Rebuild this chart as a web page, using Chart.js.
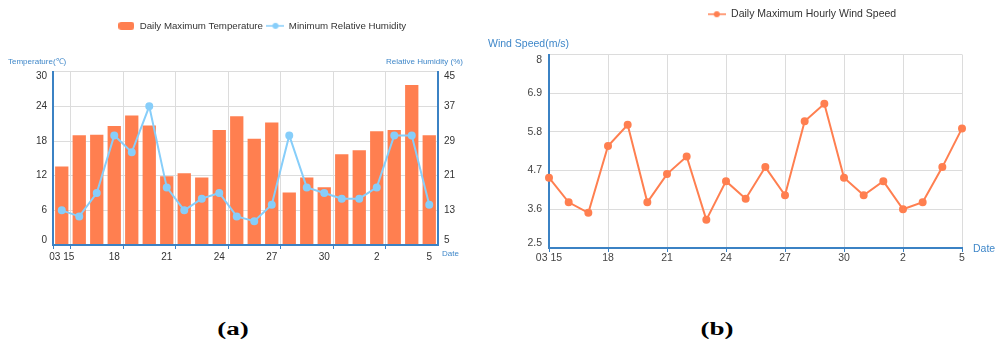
<!DOCTYPE html>
<html>
<head>
<meta charset="utf-8">
<script src="https://cdn.jsdelivr.net/npm/chart.js@4.4.1/dist/chart.umd.min.js"></script>
<style>
  html, body { margin: 0; padding: 0; background: #fff; overflow: hidden; }
  #page { position: relative; width: 995px; height: 339px; overflow: hidden; background: #fff; }
  #page canvas { position: absolute; top: 0; }
  #chartA { left: 0; }
  #chartB { left: 480px; }
  .cap {
    position: absolute; top: 319px; width: 80px; line-height: 20px; text-align: center;
    font: bold 18px "Liberation Serif", "Times New Roman", serif; color: #000;
    transform: scaleX(1.5);
  }
</style>
</head>
<body>
<div id="page">
  <canvas id="chartB" width="644" height="270"></canvas>
  <canvas id="chartA" width="524" height="270"></canvas>
  <div class="cap" style="left:193px">(a)</div>
  <div class="cap" style="left:677px">(b)</div>
</div>
<script>
// ---- data: 15 March to 5 April ----
const dayLabels = ['03 15', '16', '17', '18', '19', '20', '21', '22', '23', '24', '25',
                   '26', '27', '28', '29', '30', '31', '1', '2', '3', '4', '5'];
const maxTemperature = [13.6, 19.0, 19.1, 20.6, 22.4, 20.7, 11.9, 12.4, 11.7, 19.9, 22.3,
                        18.4, 21.2, 9.1, 11.7, 10.0, 15.7, 16.4, 19.7, 19.9, 27.7, 19.0];
const minHumidity = [13.0, 11.6, 17.0, 30.3, 26.4, 37.0, 18.3, 13.0, 15.7, 17.0, 11.6,
                     10.5, 14.3, 30.3, 18.3, 17.0, 15.7, 15.7, 18.3, 30.3, 30.3, 14.3];
const maxWindSpeed = [4.5, 3.8, 3.5, 5.4, 6.0, 3.8, 4.6, 5.1, 3.3, 4.4, 3.9,
                      4.8, 4.0, 6.1, 6.6, 4.5, 4.0, 4.4, 3.6, 3.8, 4.8, 5.9];
const temperatureTicks = [0, 6, 12, 18, 24, 30];
const humidityTicks = [5, 13, 21, 29, 37, 45];
const windTicks = [2.5, 3.6, 4.7, 5.8, 6.9, 8];

// ---- styling ----
const FONT = '"Liberation Sans", Arial, Helvetica, sans-serif';
const CORAL = '#ff7f50';
const SKY = '#87cefa';
const AXIS_BLUE = '#3b82c4';
const NOTE_BLUE = '#3f87c9';
const GRID = '#dcdcdc';

// small canvases used as legend symbols
function legendIcon(kind, color) {
  const c = document.createElement('canvas');
  const g = c.getContext('2d');
  if (kind === 'box') {
    c.width = 16; c.height = 8;
    const r = 3, w = 16, h = 8;
    g.fillStyle = color;
    g.beginPath();
    g.moveTo(r, 0); g.lineTo(w - r, 0); g.quadraticCurveTo(w, 0, w, r);
    g.lineTo(w, h - r); g.quadraticCurveTo(w, h, w - r, h);
    g.lineTo(r, h); g.quadraticCurveTo(0, h, 0, h - r);
    g.lineTo(0, r); g.quadraticCurveTo(0, 0, r, 0);
    g.fill();
  } else {
    c.width = 18; c.height = 8;
    g.strokeStyle = color; g.lineWidth = 1.5;
    g.beginPath(); g.moveTo(0, 4); g.lineTo(18, 4); g.stroke();
    g.fillStyle = color;
    g.beginPath(); g.arc(9, 4, 3, 0, Math.PI * 2); g.fill();
  }
  return c;
}

function legendItems(chart) {
  const items = Chart.defaults.plugins.legend.labels.generateLabels(chart);
  items.sort((a, b) => a.datasetIndex - b.datasetIndex);
  items.forEach(item => {
    const ds = chart.data.datasets[item.datasetIndex];
    item.pointStyle = ds.type === 'bar'
      ? legendIcon('box', ds.backgroundColor)
      : legendIcon('line', ds.borderColor);
  });
  return items;
}

// end labels sit just inside the axis range
function tickText(list) {
  const lo = list[0], hi = list[list.length - 1];
  return v => v === hi ? ['', String(v)] : v === lo ? [String(v), ''] : String(v);
}
function fixedTicks(list) {
  return scale => { scale.ticks = list.map(v => ({ value: v })); };
}

// horizontal axis captions placed around the plot area
const axisNotes = {
  id: 'axisNotes',
  afterDraw(chart, args, opts) {
    const { ctx, chartArea } = chart;
    ctx.save();
    ctx.fillStyle = opts.color;
    ctx.font = opts.size + 'px ' + FONT;
    ctx.textBaseline = 'middle';
    ctx.textAlign = 'left';
    (opts.items || []).forEach(n => {
      const x = (n.from === 'right' ? chartArea.right : chartArea.left) + n.dx;
      const y = (n.at === 'bottom' ? chartArea.bottom : chartArea.top) + n.dy;
      ctx.fillText(n.text, x, y);
    });
    ctx.restore();
  }
};

const tickFont = { family: FONT, size: 10, lineHeight: 1 };

// ---- (a) temperature bars + humidity line ----
new Chart(document.getElementById('chartA'), {
  type: 'bar',
  plugins: [axisNotes],
  data: {
    labels: dayLabels,
    datasets: [
      {
        type: 'bar',
        label: 'Daily Maximum Temperature',
        data: maxTemperature,
        backgroundColor: CORAL,
        borderWidth: 0,
        categoryPercentage: 1,
        barPercentage: 0.76,
        yAxisID: 'y',
        order: 1
      },
      {
        type: 'line',
        label: 'Minimum Relative Humidity',
        data: minHumidity,
        borderColor: SKY,
        backgroundColor: SKY,
        borderWidth: 2,
        pointRadius: 3,
        pointBackgroundColor: SKY,
        pointBorderColor: SKY,
        tension: 0,
        yAxisID: 'y1',
        order: 0
      }
    ]
  },
  options: {
    responsive: false,
    devicePixelRatio: 1,
    animation: false,
    layout: { padding: { top: 17, left: 0, right: 0, bottom: 0 } },
    plugins: {
      legend: {
        position: 'top',
        labels: {
          usePointStyle: true,
          pointStyleWidth: 17,
          padding: 4,
          color: '#333',
          font: { family: FONT, size: 9.7 },
          generateLabels: legendItems
        }
      },
      subtitle: { display: true, text: '', weight: 500, font: { size: 10, lineHeight: 1 }, padding: { top: 21, bottom: 0 } },
      tooltip: { enabled: false },
      axisNotes: {
        color: NOTE_BLUE,
        size: 8,
        items: [
          { text: 'Temperature(℃)', from: 'left', dx: -45, at: 'top', dy: -10 },
          { text: 'Relative Humidity (%)', from: 'right', dx: -52, at: 'top', dy: -10 },
          { text: 'Date', from: 'right', dx: 4, at: 'bottom', dy: 9 }
        ]
      }
    },
    scales: {
      x: {
        type: 'category',
        offset: true,
        grid: {
          offset: true,
          color: c => (c.index % 3 === 1 ? GRID : 'rgba(0,0,0,0)'),
          tickColor: c => (c.index === 0 || c.index % 3 === 1 ? AXIS_BLUE : 'rgba(0,0,0,0)'),
          tickLength: 4
        },
        border: { color: AXIS_BLUE, width: 2, z: 1 },
        ticks: {
          autoSkip: false,
          maxRotation: 0,
          padding: 2,
          color: '#333',
          font: { family: FONT, size: 10 },
          callback(v, i) { return i % 3 === 0 ? this.getLabelForValue(v) : ''; }
        },
        afterFit: s => { s.height = 25; }
      },
      y: {
        position: 'left',
        min: temperatureTicks[0],
        max: temperatureTicks[temperatureTicks.length - 1],
        afterBuildTicks: fixedTicks(temperatureTicks),
        grid: { color: GRID, drawTicks: false },
        border: { color: AXIS_BLUE, width: 2, z: 1 },
        ticks: { padding: 6, color: '#333', font: tickFont, callback: tickText(temperatureTicks) },
        afterFit: s => { s.width = 53; }
      },
      y1: {
        position: 'right',
        min: humidityTicks[0],
        max: humidityTicks[humidityTicks.length - 1],
        afterBuildTicks: fixedTicks(humidityTicks),
        grid: { drawOnChartArea: false, drawTicks: false },
        border: { color: AXIS_BLUE, width: 2, z: 1 },
        ticks: { padding: 6, color: '#333', font: tickFont, callback: tickText(humidityTicks) },
        afterFit: s => { s.width = 86; }
      }
    }
  }
});

// ---- (b) wind speed line ----
new Chart(document.getElementById('chartB'), {
  type: 'line',
  plugins: [axisNotes],
  data: {
    labels: dayLabels,
    datasets: [
      {
        label: 'Daily Maximum Hourly Wind Speed',
        data: maxWindSpeed,
        borderColor: CORAL,
        backgroundColor: CORAL,
        borderWidth: 2,
        pointRadius: 3,
        pointBackgroundColor: CORAL,
        pointBorderColor: CORAL,
        tension: 0,
        clip: false
      }
    ]
  },
  options: {
    responsive: false,
    devicePixelRatio: 1,
    animation: false,
    layout: { padding: { top: 5, left: 0, right: 0, bottom: 0 } },
    plugins: {
      legend: {
        position: 'top',
        labels: {
          usePointStyle: true,
          pointStyleWidth: 18,
          padding: 4,
          color: '#333',
          font: { family: FONT, size: 10.5 },
          generateLabels: legendItems
        }
      },
      subtitle: { display: true, text: '', weight: 500, font: { size: 10, lineHeight: 1 }, padding: { top: 15, bottom: 0 } },
      tooltip: { enabled: false },
      axisNotes: {
        color: NOTE_BLUE,
        size: 10.5,
        items: [
          { text: 'Wind Speed(m/s)', from: 'left', dx: -61, at: 'top', dy: -10 },
          { text: 'Date', from: 'right', dx: 11, at: 'bottom', dy: 1 }
        ]
      }
    },
    scales: {
      x: {
        type: 'category',
        offset: false,
        grid: {
          offset: false,
          color: c => (c.index > 0 && c.index % 3 === 0 ? GRID : 'rgba(0,0,0,0)'),
          tickColor: c => (c.index % 3 === 0 ? AXIS_BLUE : 'rgba(0,0,0,0)'),
          tickLength: 4
        },
        border: { color: AXIS_BLUE, width: 2 },
        ticks: {
          autoSkip: false,
          maxRotation: 0,
          padding: 0,
          color: '#444',
          font: { family: FONT, size: 10.5 },
          callback(v, i) { return i % 3 === 0 ? this.getLabelForValue(v) : ''; }
        },
        afterFit: s => { s.height = 22; }
      },
      y: {
        position: 'left',
        min: windTicks[0],
        max: windTicks[windTicks.length - 1],
        afterBuildTicks: fixedTicks(windTicks),
        grid: { color: GRID, drawTicks: false },
        border: { color: AXIS_BLUE, width: 2 },
        ticks: { padding: 7, color: '#444', font: { family: FONT, size: 10.5, lineHeight: 1 }, callback: tickText(windTicks) },
        afterFit: s => { s.width = 69; }
      },
      side: {
        position: 'right',
        grid: { display: false, drawOnChartArea: false, drawTicks: false },
        border: { display: false },
        ticks: { display: false },
        afterFit: s => { s.width = 162; }
      }
    }
  }
});
</script>
</body>
</html>
